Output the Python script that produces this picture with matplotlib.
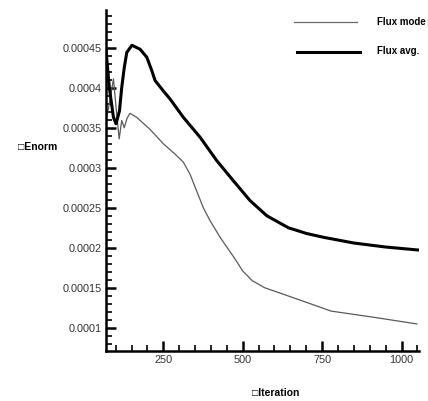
import matplotlib.pyplot as plt
from matplotlib.ticker import MultipleLocator, FuncFormatter

plt.rcParams["font.family"] = ["Liberation Sans", "DejaVu Sans"]

# Flux mode (thin grey curve)
mode_iter = [70, 80, 93, 102, 111, 119, 127, 136, 145, 166, 208, 250, 287,
             313, 334, 355, 376, 397, 429, 476, 500, 530, 570, 621, 700,
             778, 900, 1048]
mode_enorm = [0.000360, 0.000380, 0.000411, 0.000372, 0.000336, 0.000359,
              0.000350, 0.000362, 0.000368, 0.000363, 0.000348, 0.000330,
              0.000317, 0.000307, 0.000292, 0.000271, 0.000250, 0.000234,
              0.000213, 0.000186, 0.000171, 0.000159, 0.000150, 0.000143,
              0.000132, 0.000121, 0.000114, 0.000105]

# Flux avg. (thick black curve)
avg_iter = [70, 80, 93, 101, 112, 119, 127, 135, 151, 177, 198, 214, 224,
            250, 271, 313, 366, 418, 470, 523, 576, 644, 700, 756, 850,
            950, 1060]
avg_enorm = [0.000445, 0.000400, 0.000363, 0.000355, 0.000371, 0.000400,
             0.000425, 0.000444, 0.000453, 0.000448, 0.000438, 0.000421,
             0.000409, 0.000396, 0.000386, 0.000363, 0.000338, 0.000309,
             0.000284, 0.000259, 0.000240, 0.000225, 0.000218, 0.000213,
             0.000206, 0.000201, 0.000197]

fig = plt.figure(figsize=(4.28, 4.01), dpi=100)
ax = fig.add_axes([0.248, 0.125, 0.731, 0.85])

ax.plot(mode_iter, mode_enorm, color="#5a5a5a", lw=0.9)
ax.plot(avg_iter, avg_enorm, color="black", lw=2.2)

ax.set_xlim(70, 1055)
ax.set_ylim(0.0000713, 0.000497)

ax.spines["top"].set_visible(False)
ax.spines["right"].set_visible(False)
ax.spines["left"].set_linewidth(1.8)
ax.spines["bottom"].set_linewidth(1.8)

ax.xaxis.set_major_locator(MultipleLocator(250))
ax.xaxis.set_minor_locator(MultipleLocator(50))
ax.yaxis.set_major_locator(MultipleLocator(0.00005))
ax.yaxis.set_minor_locator(MultipleLocator(0.00001))
ax.yaxis.set_major_formatter(FuncFormatter(lambda v, p: f"{v:.5f}".rstrip("0")))

ax.tick_params(which="major", direction="in", length=7, width=1.8,
               labelsize=7.8, colors="black", pad=3)
ax.tick_params(which="minor", direction="in", length=4, width=1.2)
for lab in ax.get_xticklabels() + ax.get_yticklabels():
    lab.set_color("#333333")

fig.text(0.042, 0.633, "\u25a1Enorm", fontsize=7.5, fontweight="bold",
         ha="left", va="center")
fig.text(0.645, 0.02, "\u25a1Iteration", fontsize=7.5, fontweight="bold",
         ha="center", va="center")

# legend drawn by hand to match the reference layout
fig.add_artist(plt.Line2D([0.687, 0.834], [0.945, 0.945], color="#6a6a6a", lw=0.9))
fig.add_artist(plt.Line2D([0.694, 0.841], [0.870, 0.870], color="black", lw=2.2))
fig.text(0.88, 0.945, "Flux mode", fontsize=7, fontweight="bold", va="center")
fig.text(0.88, 0.872, "Flux avg.", fontsize=7, fontweight="bold", va="center")

fig.savefig("out.png", dpi=100)
